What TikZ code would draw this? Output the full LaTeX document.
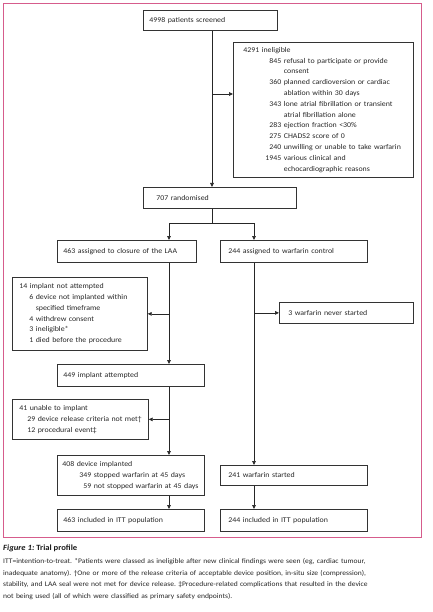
\documentclass[tikz,border=0pt]{standalone}
\usepackage{fontspec}
\setmainfont[FakeStretch=1.08]{Carlito}
\usepackage{xcolor}
\usepackage{tikz}
\usetikzlibrary{arrows.meta,positioning}
\definecolor{framepink}{RGB}{214,92,140}
\frenchspacing
% count with right-aligned number, and continuation line
\newcommand{\tally}[3][38pt]{\mbox{\makebox[#1][r]{#2}\hspace{2.5pt}#3}}
\newcommand{\tallycont}[2][38pt]{\hspace*{\dimexpr#1+2.5pt\relax}\mbox{#2}}

\begin{document}
\begin{tikzpicture}[x=1pt, y=-1pt,
  box/.style={rectangle, draw=black!80, line width=0.7pt, anchor=north west,
    align=left, inner ysep=0pt, text=black!85, font=\fontsize{7.3}{10.8}\selectfont},
  arrow/.style={-{Triangle[length=4pt,width=3.6pt]}, line width=0.7pt, black!85},
  link/.style={line width=0.7pt, black!85},
]
\useasboundingbox (0,0) rectangle (432,612);
\draw[framepink, line width=0.9pt] (3,3) rectangle (421,537);

% Screening
\node[box, text width=122pt, minimum height=20pt, inner xsep=6pt] (screened) at (143,10) {4998 patients screened};
\node[box, text width=160pt, minimum height=135pt, inner xsep=10pt] (inelig) at (233,42) {4291 ineligible\\
  \tally{845}{refusal to participate or provide}\\
  \tallycont{consent}\\
  \tally{360}{planned cardioversion or cardiac}\\
  \tallycont{ablation within 30 days}\\
  \tally{343}{lone atrial fibrillation or transient}\\
  \tallycont{atrial fibrillation alone}\\
  \tally{283}{ejection fraction <30\%}\\
  \tally{275}{CHADS2 score of 0}\\
  \tally{240}{unwilling or unable to take warfarin}\\
  \tally{1945}{various clinical and}\\
  \tallycont{echocardiographic reasons}};
\node[box, text width=127pt, minimum height=21pt, inner xsep=13pt] (randomised) at (143,187) {707 randomised};

% Allocation
\node[box, text width=127pt, minimum height=22pt, inner xsep=6pt] (closure) at (57,240) {463 assigned to closure of the LAA};
\node[box, text width=131pt, minimum height=22pt, inner xsep=8pt] (warfctl) at (220,240) {244 assigned to warfarin control};
\node[box, text width=121pt, minimum height=73pt, inner xsep=7pt] (notatt) at (12,277) {14 implant not attempted\\
  \tally[14pt]{6}{device not implanted within}\\
  \tallycont[14pt]{specified timeframe}\\
  \tally[14pt]{4}{withdrew consent}\\
  \tally[14pt]{3}{ineligible*}\\
  \tally[14pt]{1}{died before the procedure}};
\node[box, text width=116pt, minimum height=21pt, inner xsep=9pt] (never) at (279,302) {3 warfarin never started};
\node[box, text width=135pt, minimum height=22pt, inner xsep=6pt] (attempted) at (57,364) {449 implant attempted};
\node[box, text width=122pt, minimum height=40pt, inner xsep=7pt] (unable) at (12,399) {41 unable to implant\\
  \tally[16pt]{29}{device release criteria not met†}\\
  \tally[16pt]{12}{procedural event‡}};

% Outcome
\node[box, text width=137pt, minimum height=40pt, inner xsep=5pt] (implanted) at (57,455) {408 device implanted\\
  \tally[29pt]{349}{stopped warfarin at 45 days}\\
  \tally[29pt]{59}{not stopped warfarin at 45 days}};
\node[box, text width=131pt, minimum height=20pt, inner xsep=8pt] (started) at (220,465) {241 warfarin started};
\node[box, text width=135pt, minimum height=22pt, inner xsep=6pt] (ittL) at (57,509) {463 included in ITT population};
\node[box, text width=131pt, minimum height=22pt, inner xsep=8pt] (ittR) at (220,509) {244 included in ITT population};

% Flow lines
\coordinate (mainx) at (212,0);
\coordinate (leftx) at (169,0);
\coordinate (rightx) at (254,0);
\coordinate (inelfork) at (212,94);
\coordinate (split) at (212,223);
\draw[arrow] (screened.south -| mainx) -- (randomised.north -| mainx);
\draw[arrow] (inelfork) -- (inelfork -| inelig.west);
\draw[link] (randomised.south -| split) -- (split);
\draw[arrow] (split) -| (closure.north -| leftx);
\draw[arrow] (split) -| (warfctl.north -| rightx);
\draw[arrow] (closure.south -| leftx) -- (attempted.north -| leftx);
\draw[arrow] (leftx |- notatt.east) -- (notatt.east);
\draw[arrow] (warfctl.south -| rightx) -- (started.north -| rightx);
\draw[arrow] (rightx |- never.west) -- (never.west);
\draw[arrow] (attempted.south -| leftx) -- (implanted.north -| leftx);
\draw[arrow] (leftx |- unable.east) -- (unable.east);
\draw[arrow] (implanted.south -| leftx) -- (ittL.north -| leftx);
\draw[arrow] (started.south -| rightx) -- (ittR.north -| rightx);

% Caption
\node[anchor=west, inner sep=0pt, text=black!90, font=\fontsize{8}{10}\selectfont\bfseries] (figtitle) at (3,548) {\textit{Figure 1:} Trial profile};
\node[anchor=north west, inner sep=0pt, text width=426pt, align=left, text=black!85,
  font=\fontsize{7}{11.7}\selectfont] (legend) at (3,558) {\mbox{ITT=intention-to-treat. *Patients were classed as ineligible after new clinical findings were seen (eg, cardiac tumour,}\\
  \mbox{inadequate anatomy). †One or more of the release criteria of acceptable device position, in-situ size (compression),}\\
  \mbox{stability, and LAA seal were not met for device release. ‡Procedure-related complications that resulted in the device}\\
  not being used (all of which were classified as primary safety endpoints).};
\end{tikzpicture}
\end{document}
